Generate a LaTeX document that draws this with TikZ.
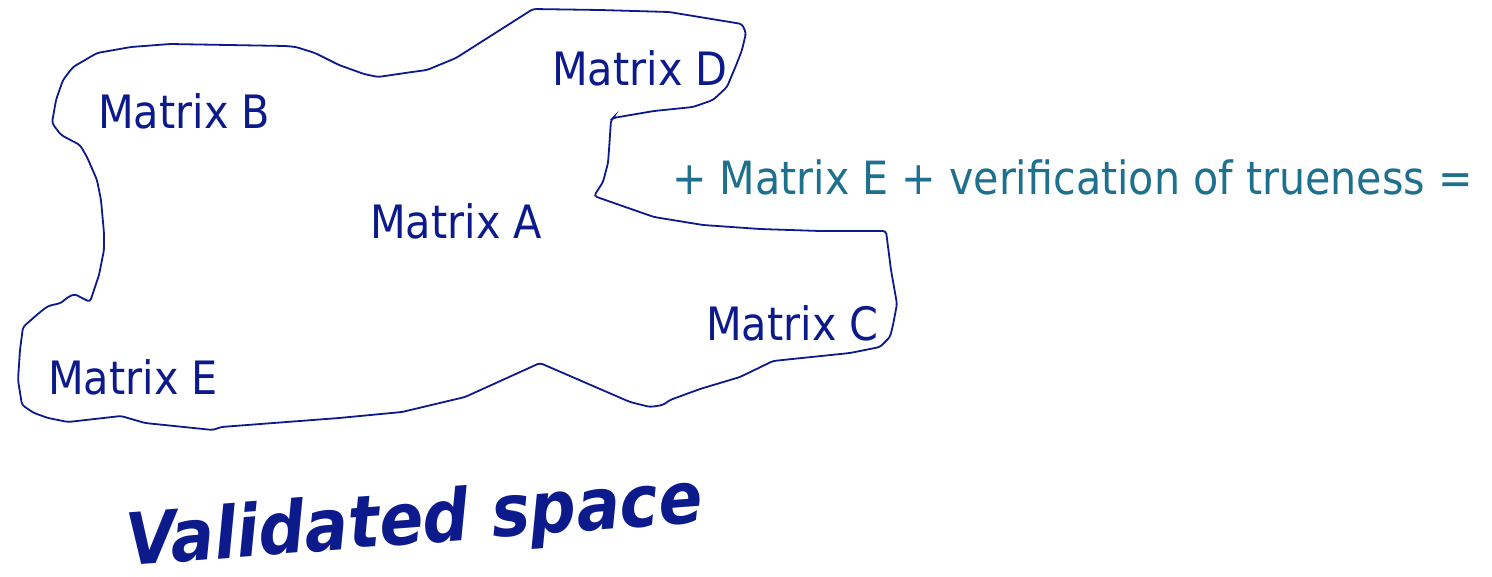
\documentclass[tikz,border=0pt]{standalone}
\usepackage{fontspec}
\setmainfont{DejaVu Sans Condensed}
\newfontfamily\valfont{DejaVu Sans Condensed}
\definecolor{matnavy}{RGB}{12,26,140}
\definecolor{mateal}{RGB}{30,112,142}
\begin{document}
\begin{tikzpicture}[
    x=1pt, y=-1pt,
    blob/.style={draw=matnavy, line width=1.8pt, rounded corners=3pt},
    mat/.style={anchor=base west, inner sep=0pt, text=matnavy,
                font=\fontsize{46}{54}\selectfont},
    sumtxt/.style={anchor=base west, inner sep=0pt, text=mateal,
                   font=\fontsize{45.8}{54}\selectfont},
    valtxt/.style={anchor=base west, inner sep=0pt, rotate=4.4,
                   font=\valfont\bfseries\itshape\fontsize{72}{80}\selectfont},
  ]
  \useasboundingbox (0,0) rectangle (1492,576);
  \draw[blob] (533,9) -- (600,10) -- (669,12) -- (742,24) -- (746,33)
    -- (742,50) -- (737,63) -- (727,87) -- (713,100) -- (693,107)
    -- (654,111) -- (613,118) -- (611,120) -- (609,150) -- (608,163)
    -- (603,182) -- (594,196) -- (611,202) -- (654,217) -- (703,225)
    -- (760,229) -- (820,231) -- (886,231) -- (891,270) -- (897,304)
    -- (893,325) -- (890,337) -- (880,347) -- (850,353) -- (773,361)
    -- (740,377) -- (700,389) -- (670,400) -- (663,405) -- (650,407)
    -- (630,402) -- (540,363) -- (465,397) -- (402,412) -- (339,418)
    -- (221,427) -- (213,430) -- (145,423) -- (121,416) -- (68,422)
    -- (48,418) -- (34,413) -- (22,405) -- (18,380) -- (20,350)
    -- (23,327) -- (39,313) -- (48,306) -- (61,303) -- (68,297)
    -- (75,294) -- (80,297) -- (90,302) -- (99,275) -- (104,250)
    -- (104,233) -- (101,200) -- (97,180) -- (87,157) -- (80,145)
    -- (61,135) -- (52,123) -- (56,100) -- (63,80) -- (73,67)
    -- (97,53) -- (131,47) -- (170,44) -- (286,46) -- (296,47)
    -- (315,53) -- (339,65) -- (364,74) -- (378,77) -- (412,72)
    -- (427,70) -- (456,58) -- cycle;
  \node[mat] (matd) at (552,85) {Matrix D};
  \node[mat] (matb) at (98,128) {Matrix B};
  \node[mat] (mata) at (370,238) {Matrix A};
  \node[mat] (matc) at (706,340) {Matrix C};
  \node[mat] (mate) at (48,394) {Matrix E};
  \node[sumtxt] (sum) at (672,194) {+ Matrix E + verification of trueness =};
  \node[valtxt, text=matnavy] (valid) at (128,566) {Validated space};
\end{tikzpicture}
\end{document}
